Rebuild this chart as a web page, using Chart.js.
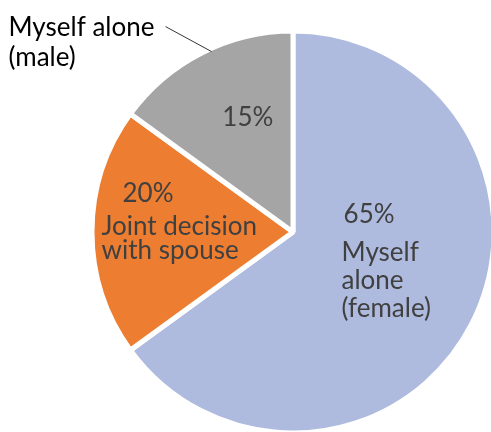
<!DOCTYPE html>
<html>
<head>
<meta charset="utf-8">
<script src="https://cdn.jsdelivr.net/npm/chart.js@4.4.1/dist/chart.umd.min.js"></script>
<style>
  html, body { margin: 0; padding: 0; background: #fff; }
  #wrap { width: 491px; height: 432px; }
</style>
</head>
<body>
<div id="wrap"><canvas id="pieChart" width="491" height="432"></canvas></div>
<script>
// Dados do gráfico
const categorias = [
  ['Myself', 'alone', '(female)'],
  ['Joint decision', 'with spouse'],
  ['Myself alone', '(male)']
];
const valores = [65, 20, 15];
const cores = ['#AEBBDE', '#ED7D31', '#A5A5A5'];

// posição dos rótulos relativa ao tooltipPosition de cada fatia
const layoutRotulos = [
  { pct: [-39, -55], nome: [-41, -17], linha: 28, fora: false },
  { pct: [-70, -30], nome: [-91, 3], linha: 24, fora: false },
  { pct: [-25, -16], nome: null, linha: 30, fora: true }
];

const fonte = '26px Lato, "Open Sans", sans-serif';

const rotulosPlugin = {
  id: 'rotulos',
  afterDatasetsDraw(chart) {
    const ctx = chart.ctx;
    const meta = chart.getDatasetMeta(0);
    ctx.save();
    ctx.font = fonte;
    ctx.textAlign = 'left';
    ctx.textBaseline = 'alphabetic';
    meta.data.forEach((arc, i) => {
      const pos = arc.tooltipPosition();
      const cfg = layoutRotulos[i];
      ctx.fillStyle = '#404040';
      ctx.fillText(valores[i] + '%', pos.x + cfg.pct[0], pos.y + cfg.pct[1]);
      if (!cfg.fora) {
        categorias[i].forEach((txt, j) => {
          ctx.fillText(txt, pos.x + cfg.nome[0], pos.y + cfg.nome[1] + j * cfg.linha);
        });
      } else {
        // rótulo externo com linha guia
        const p = arc.getProps(['x', 'y', 'startAngle', 'endAngle', 'outerRadius'], true);
        const ang = p.startAngle + (p.endAngle - p.startAngle) * 0.55;
        const x0 = p.x + Math.cos(ang) * p.outerRadius * 0.985;
        const y0 = p.y + Math.sin(ang) * p.outerRadius * 0.985;
        const x1 = x0 - 46, y1 = y0 - 25;
        ctx.strokeStyle = '#000';
        ctx.lineWidth = 0.8;
        ctx.beginPath();
        ctx.moveTo(x0, y0);
        ctx.lineTo(x1, y1);
        ctx.stroke();
        ctx.fillStyle = '#000';
        categorias[i].forEach((txt, j) => {
          ctx.fillText(txt, x1 - 157, y1 + 9 + j * cfg.linha);
        });
      }
    });
    ctx.restore();
  }
};

new Chart(document.getElementById('pieChart').getContext('2d'), {
  type: 'pie',
  data: {
    labels: categorias,
    datasets: [{
      data: valores,
      backgroundColor: cores,
      borderColor: '#fff',
      borderWidth: 5
    }]
  },
  options: {
    responsive: false,
    animation: false,
    radius: 201,
    layout: { padding: { left: 95, right: 0, top: 32, bottom: 0 } },
    plugins: { legend: { display: false }, tooltip: { enabled: false } }
  },
  plugins: [rotulosPlugin]
});
</script>
</body>
</html>
